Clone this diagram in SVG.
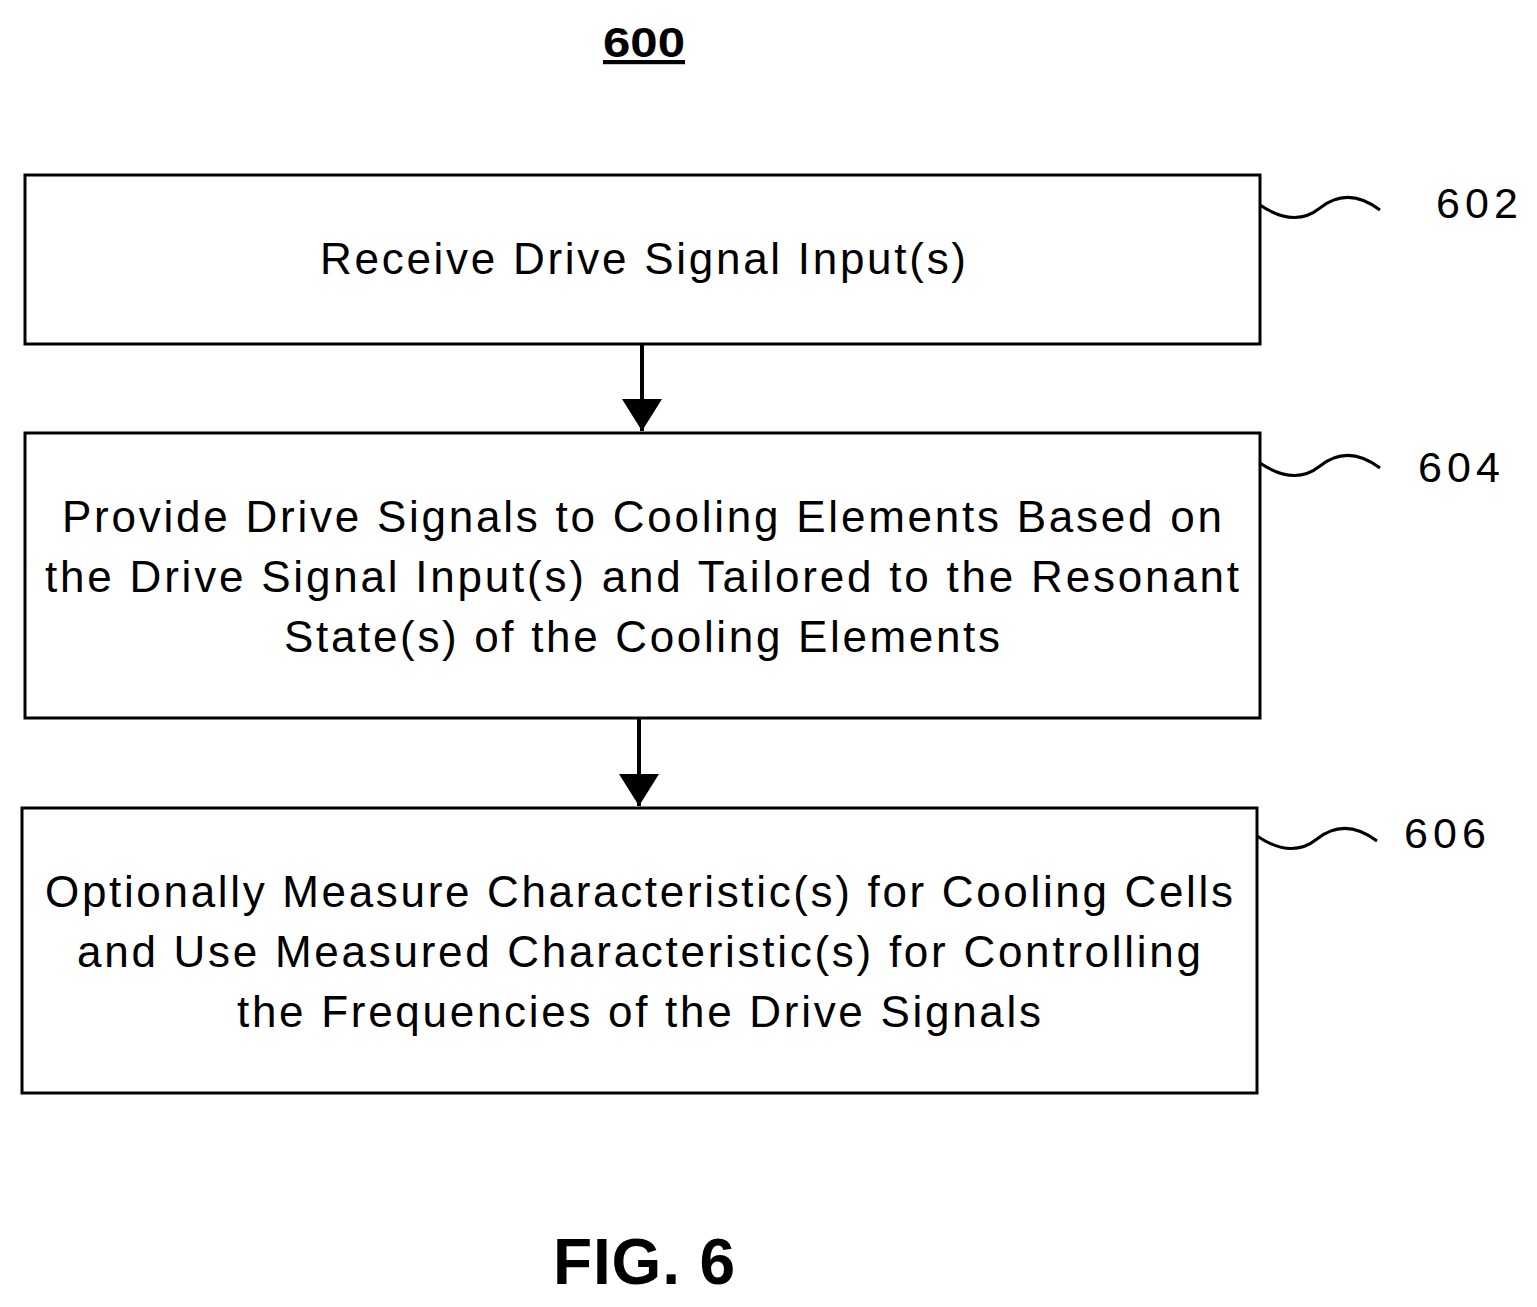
<svg xmlns="http://www.w3.org/2000/svg" width="1537" height="1307" viewBox="0 0 1537 1307">
<style>
.box{fill:#fff;stroke:#000;stroke-width:3}
.t{font-family:"Liberation Sans",Arial,sans-serif;font-size:44px;text-anchor:middle;fill:#000}
.lbl{font-family:"Liberation Sans",Arial,sans-serif;font-size:43px;fill:#000}
.sq{fill:none;stroke:#000;stroke-width:3}
.ln{stroke:#000;stroke-width:4}
</style>
<defs><marker id="ah" markerWidth="8" markerHeight="10" refX="8" refY="5" orient="auto" markerUnits="strokeWidth"><path d="M0,0L8,5L0,10Z" fill="#000"/></marker></defs>
<rect width="1537" height="1307" fill="#fff"/>
<text x="644" y="57" font-family="Liberation Sans,Arial,sans-serif" font-size="42" font-weight="bold" text-anchor="middle" text-decoration="underline" textLength="82" lengthAdjust="spacingAndGlyphs">600</text>
<g id="n602">
<rect class="box" x="25" y="175" width="1235" height="169"/>
<text class="t" x="643" y="274" textLength="646" lengthAdjust="spacing">Receive Drive Signal Input(s)</text>
<path class="sq" d="M1260,205 C1285,222 1305,220 1320,208 C1340,192 1360,195 1380,210"/>
<text class="lbl" x="1436" y="218" textLength="82" lengthAdjust="spacing">602</text>
</g>
<g id="n604">
<rect class="box" x="25" y="433" width="1235" height="285"/>
<text class="t" x="642" y="532" textLength="1160" lengthAdjust="spacing">Provide Drive Signals to Cooling Elements Based on</text>
<text class="t" x="642" y="592" textLength="1194" lengthAdjust="spacing">the Drive Signal Input(s) and Tailored to the Resonant</text>
<text class="t" x="642" y="652" textLength="716" lengthAdjust="spacing">State(s) of the Cooling Elements</text>
<path class="sq" d="M1260,463 C1285,480 1305,478 1320,466 C1340,450 1360,453 1380,468"/>
<text class="lbl" x="1418" y="482" textLength="82" lengthAdjust="spacing">604</text>
</g>
<g id="n606">
<rect class="box" x="22" y="808" width="1235" height="285"/>
<text class="t" x="639" y="907" textLength="1188" lengthAdjust="spacing">Optionally Measure Characteristic(s) for Cooling Cells</text>
<text class="t" x="639" y="967" textLength="1124" lengthAdjust="spacing">and Use Measured Characteristic(s) for Controlling</text>
<text class="t" x="639" y="1027" textLength="804" lengthAdjust="spacing">the Frequencies of the Drive Signals</text>
<path class="sq" d="M1257,836 C1282,853 1302,851 1317,839 C1337,823 1357,826 1377,841"/>
<text class="lbl" x="1404" y="848" textLength="82" lengthAdjust="spacing">606</text>
</g>
<g id="connectors">
<line class="ln" x1="642" y1="344" x2="642" y2="431" marker-end="url(#ah)"/>
<line class="ln" x1="639" y1="718" x2="639" y2="806" marker-end="url(#ah)"/>
</g>
<text x="644" y="1284" font-family="Liberation Sans,Arial,sans-serif" font-size="64" font-weight="bold" text-anchor="middle" textLength="182" lengthAdjust="spacing">FIG. 6</text>
</svg>
